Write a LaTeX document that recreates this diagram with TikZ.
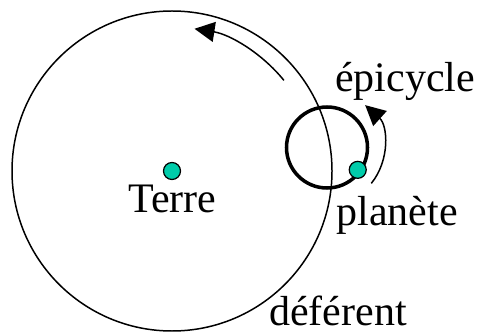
\documentclass[tikz,border=0pt]{standalone}
\usepackage{fontspec}
\setmainfont{Liberation Serif}
\usepackage{tikz}
\usetikzlibrary{arrows.meta}

\definecolor{dotteal}{RGB}{0,204,170}

\tikzset{
    body/.style={circle, draw=black, line width=0.7pt, fill=dotteal, inner sep=0pt, minimum size=0.34cm},
    label text/.style={font=\fontsize{23.9}{28}\selectfont, anchor=base, inner sep=0pt},
    turn/.style={line width=0.85pt, -{Triangle[length=0.4cm, width=0.4cm]}}
}

\begin{document}
\begin{tikzpicture}
    \useasboundingbox (0,0) rectangle (9.62,6.64);

    % Deferent and Earth
    \coordinate (def) at (3.44,3.22);
    \draw[line width=0.85pt] (def) circle (3.2);
    \node[body] (terre) at (def) {};
    \node[label text] (terrelabel) at (3.45,2.4) {Terre};

    % Motion along the deferent
    \draw[turn] (def) ++(39:2.88) arc[start angle=39, end angle=81, radius=2.88];

    % Epicycle and planet
    \coordinate (epi) at (6.54,3.69);
    \draw[line width=2pt] (epi) circle (0.81);
    \node[body] (planete) at ([shift={(-36:0.76)}]epi) {};

    % Motion along the epicycle
    \draw[turn] (epi) ++(-39:1.14) arc[start angle=-39, end angle=48, radius=1.14];

    % Labels
    \node[label text] (epilabel) at (8.1,4.8) {épicycle};
    \node[label text] (planetelabel) at (7.94,2.14) {planète};
    \node[label text] (deflabel) at (6.76,0.14) {déférent};
\end{tikzpicture}
\end{document}
